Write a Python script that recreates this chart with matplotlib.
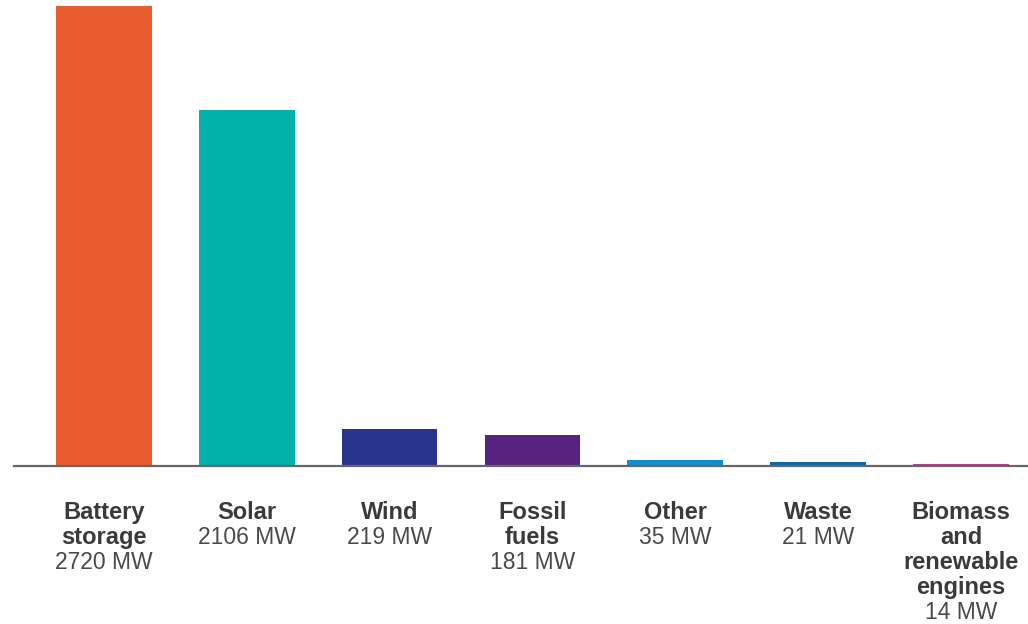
import matplotlib
matplotlib.use("Agg")
import matplotlib.pyplot as plt

# data
names = [["Battery", "storage"], ["Solar"], ["Wind"], ["Fossil", "fuels"],
         ["Other"], ["Waste"], ["Biomass", "and", "renewable", "engines"]]
values = [2720, 2106, 219, 181, 35, 21, 14]
colors = ["#E95D2F", "#00B2AA", "#29348E", "#582380", "#0A8FD0", "#0B68AA", "#BB3B8F"]

plt.rcParams["font.family"] = ["Liberation Sans", "DejaVu Sans"]

fig = plt.figure(figsize=(10.28, 6.24), dpi=100)
ax = fig.add_axes([14 / 1028, (624 - 466) / 624, 1 - 14 / 1028, 460 / 624])

x = list(range(len(values)))
ax.bar(x, values, width=0.67, color=colors, zorder=1)
ax.set_xlim(-0.63, 6.47)
ax.set_ylim(0, 2720)
ax.axhline(0, color="#666666", lw=1.6, zorder=3, clip_on=False)

for s in ax.spines.values():
    s.set_visible(False)
ax.set_xticks([])
ax.set_yticks([])

# labels under each bar: bold name lines, then value
for i, (lines, v) in enumerate(zip(names, values)):
    for k, line in enumerate(lines + ["%d MW" % v]):
        bold = k < len(lines)
        ax.annotate(line, xy=(i, 0), xycoords=("data", "axes fraction"),
                    xytext=(0, -(53 + 25 * k)), textcoords="offset pixels",
                    ha="center", va="baseline",
                    fontsize=17 if bold else 16.5,
                    fontweight="bold" if bold else "normal",
                    color="#3a3a3a" if bold else "#4a4a4a",
                    annotation_clip=False)

fig.savefig("out.png", dpi=100)
